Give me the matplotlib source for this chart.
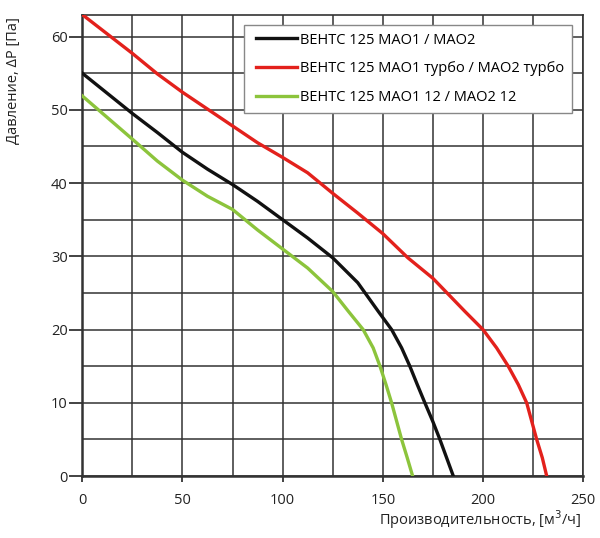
import numpy as np
import matplotlib
matplotlib.use('Agg')
import matplotlib.pyplot as plt
from matplotlib.ticker import MultipleLocator
from matplotlib.legend_handler import HandlerLine2D

plt.rcParams['font.family'] = ['Open Sans', 'DejaVu Sans']

# data
X_BASE = [0, 25, 37.5, 50, 62.5, 75, 87.5, 100, 112.5, 125, 137.5, 147.7, 154.4,
          159.4, 163.5, 167.2, 171, 174.9, 178.5, 185.2]
Y_BASE = [55, 49.5, 46.9, 44.2, 41.9, 39.8, 37.5, 35, 32.5, 29.8, 26.4, 22.5, 20,
          17.5, 15, 12.5, 10, 7.5, 5, 0]

X_TURBO = [0, 25, 37.5, 50, 62.5, 75, 87.5, 100, 112.5, 125, 137.5, 150, 162.5, 175,
           190.9, 200, 206.8, 212.6, 217.6, 221.8, 224.3, 226.8, 229.6, 231.8]
Y_TURBO = [63, 57.7, 54.9, 52.4, 50.1, 47.8, 45.5, 43.5, 41.4, 38.6, 35.9, 33.1, 29.8, 27.0,
           22.5, 20, 17.5, 15, 12.5, 10, 7.5, 5, 2.5, 0]

X_12 = [0, 25, 37.5, 50, 62.5, 75, 87.5, 100, 112.5, 125, 132.8, 140.2, 145.2, 148.6,
        151.6, 154.4, 156.9, 159.4, 162.2, 164.9]
Y_12 = [51.9, 46, 43.0, 40.4, 38.2, 36.4, 33.6, 31, 28.4, 25.2, 22.5, 20, 17.5, 15,
        12.5, 10, 7.5, 5, 2.5, 0]

LABELS = ['ВЕНТС 125 МАО1 / МАО2',
          'ВЕНТС 125 МАО1 турбо / МАО2 турбо',
          'ВЕНТС 125 МАО1 12 / МАО2 12']

fig = plt.figure(figsize=(6.0, 5.38), dpi=100)
ax = fig.add_axes([0.137, 0.115, 0.835, 0.858])

ax.plot(X_BASE, Y_BASE, color='#111111', lw=2.4, label=LABELS[0], zorder=3)
ax.plot(X_TURBO, Y_TURBO, color='#e3211c', lw=2.4, label=LABELS[1], zorder=3)
ax.plot(X_12, Y_12, color='#8cc43c', lw=2.4, label=LABELS[2], zorder=3)

ax.set_xlim(0, 250)
ax.set_ylim(0, 63)
ax.xaxis.set_major_locator(MultipleLocator(50))
ax.xaxis.set_minor_locator(MultipleLocator(25))
ax.yaxis.set_major_locator(MultipleLocator(10))
ax.yaxis.set_minor_locator(MultipleLocator(5))
ax.grid(which='both', color='#333333', lw=1.1)
ax.set_axisbelow(True)
ax.tick_params(which='major', direction='out', width=1.2, labelsize=10.5, colors='#222222')
ax.tick_params(axis='y', which='major', length=9.5, pad=1)
ax.tick_params(axis='x', which='major', length=4, pad=8)
ax.tick_params(which='minor', length=0)
for s in ax.spines.values():
    s.set_color('#333333')
    s.set_linewidth(1.2)
ax.spines['left'].set_linewidth(1.8)
ax.spines['bottom'].set_linewidth(1.8)

fig.text(0.97, 0.035, 'Производительность, [м$^3$/ч]', ha='right', va='center', fontsize=10.5, color='#222222')
fig.text(0.023, 0.851, 'Давление, ΔP [Па]', rotation=90, ha='center', va='center', fontsize=10.5, color='#222222')

leg = ax.legend(loc='upper right', bbox_to_anchor=(572 / 600, 1 - 25 / 538),
                bbox_transform=fig.transFigure, borderaxespad=0, fontsize=10.5,
                handlelength=3.15, handletextpad=0.2, labelspacing=0.94, borderpad=0.52,
                handler_map={plt.Line2D: HandlerLine2D(xpad=0.3)},
                fancybox=False, framealpha=1, edgecolor='#888888')
leg.get_frame().set_linewidth(1.0)

fig.savefig('out.png', dpi=100)
